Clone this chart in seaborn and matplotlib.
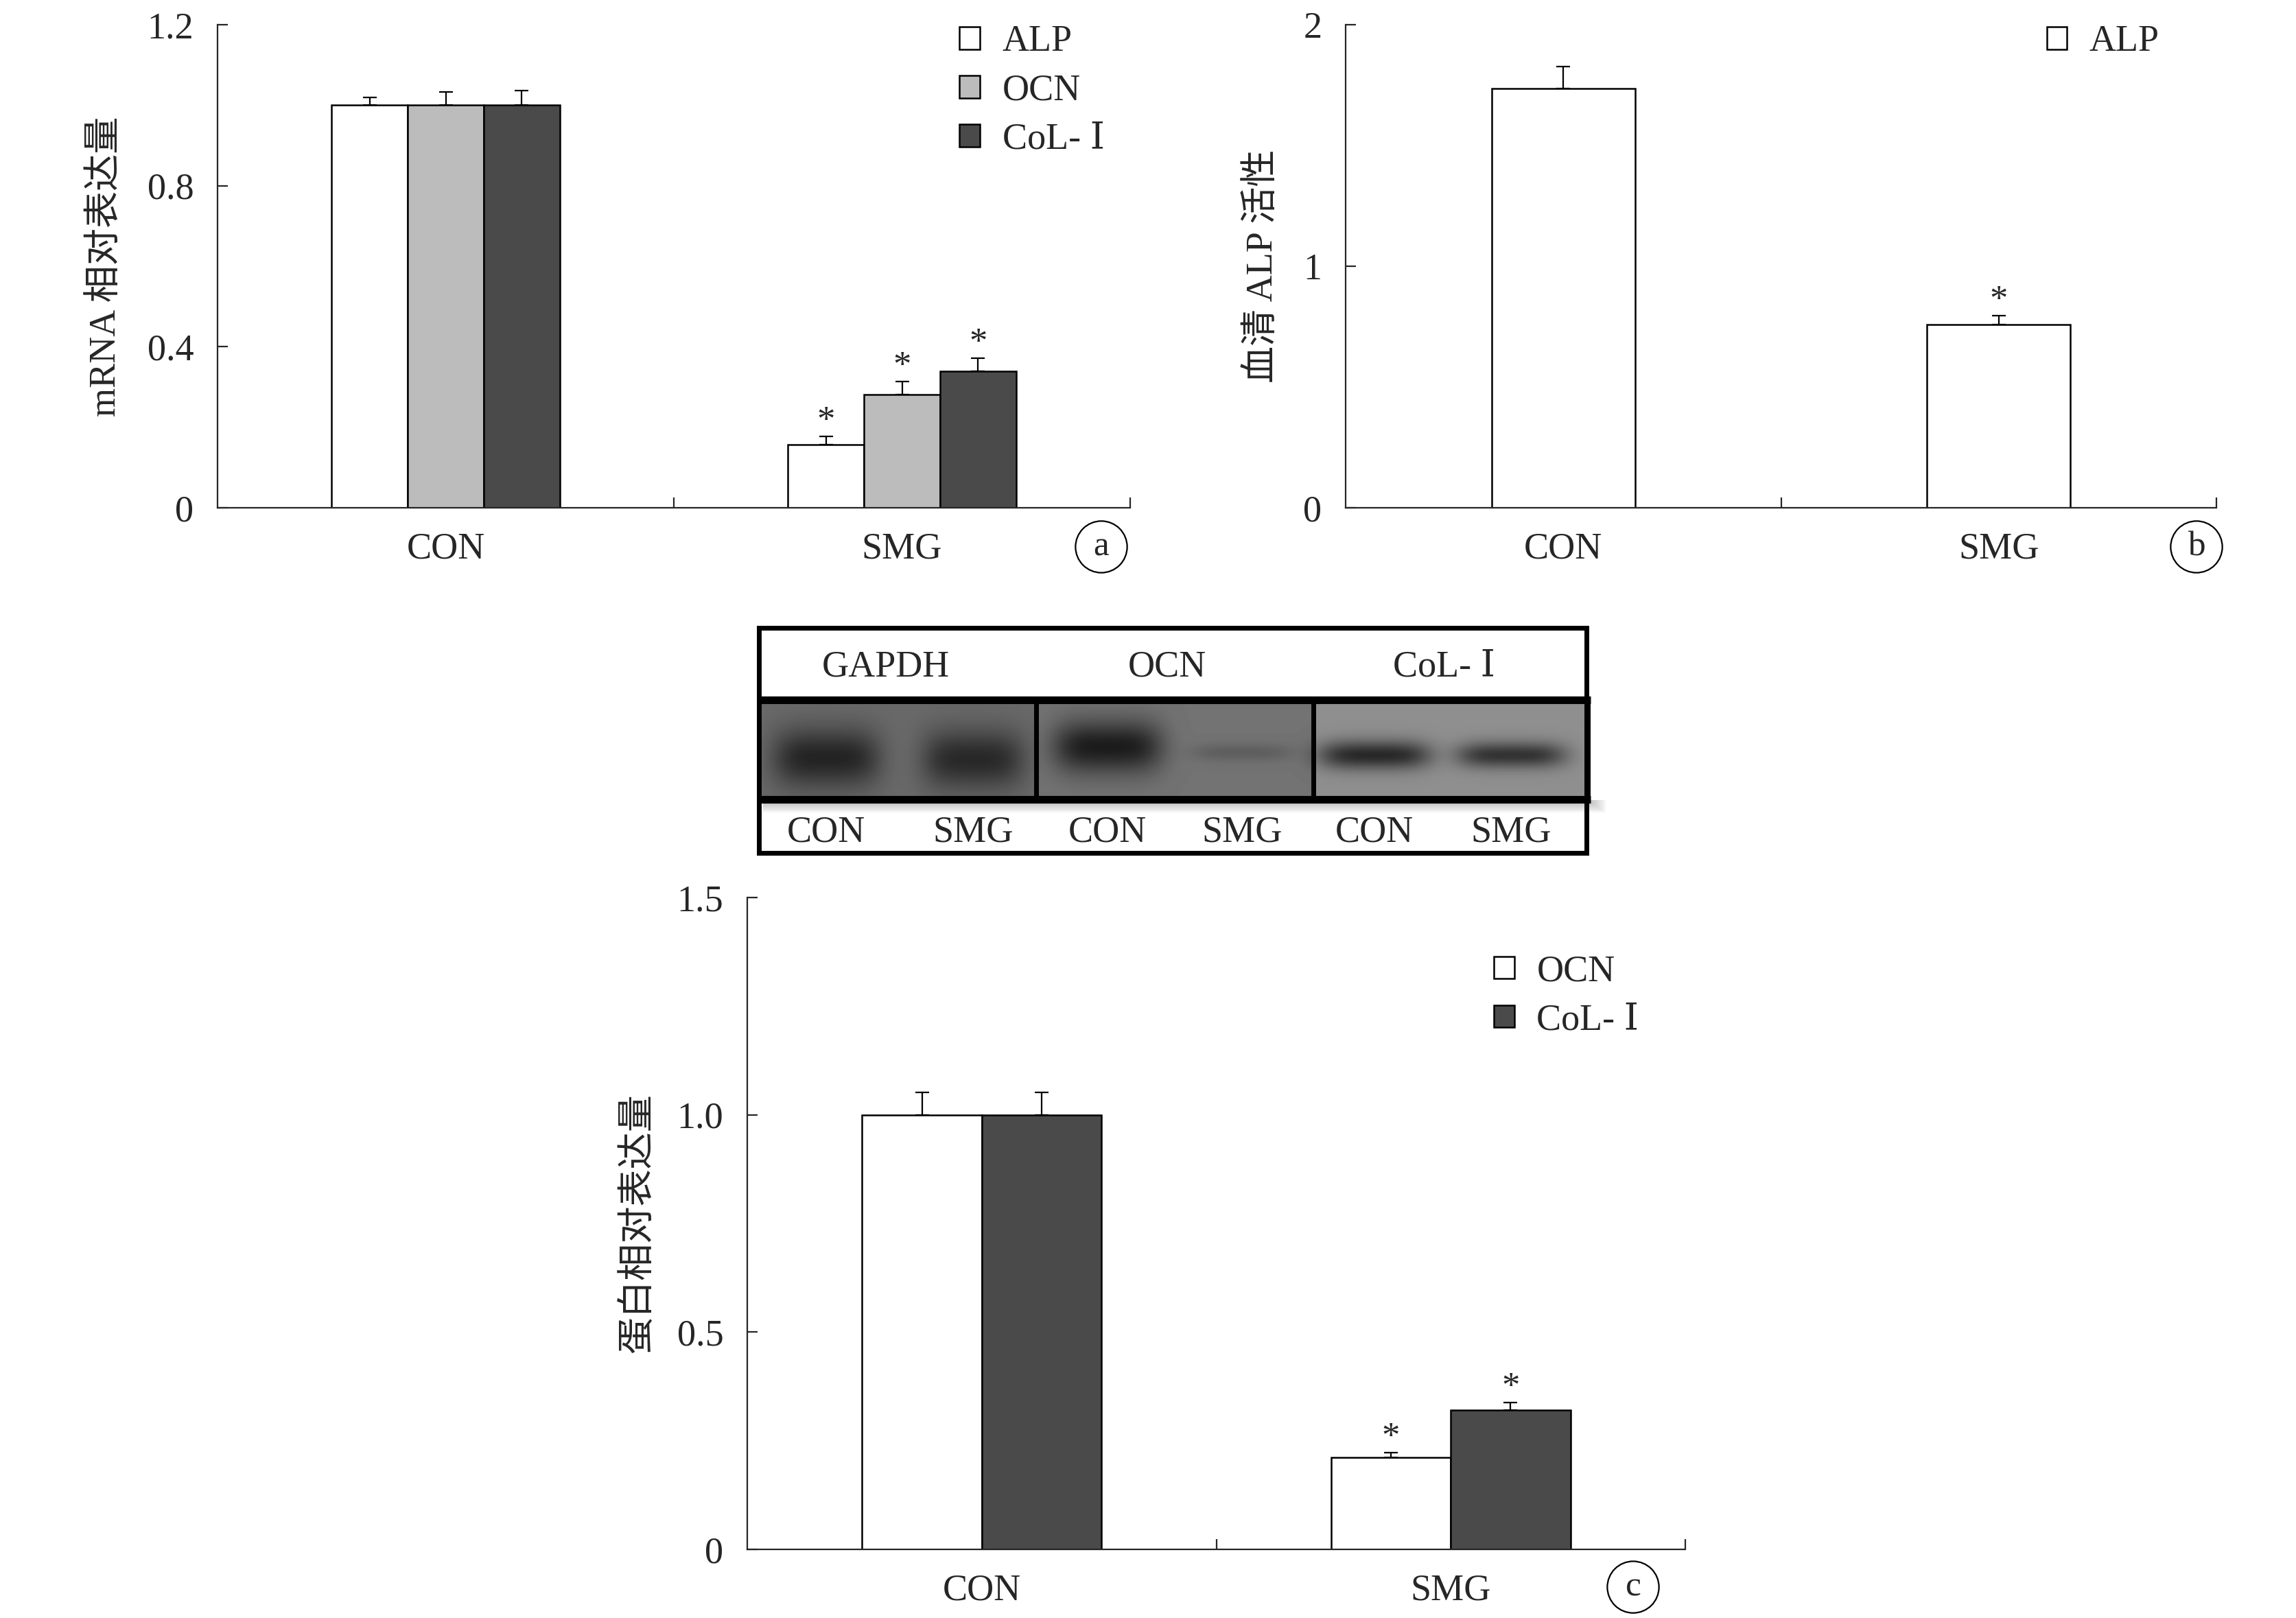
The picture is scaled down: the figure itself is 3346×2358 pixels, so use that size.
import numpy as np
import pandas as pd
import matplotlib
matplotlib.use('Agg')
import matplotlib.pyplot as plt
import seaborn as sns
from matplotlib.patches import Rectangle

sns.set_style('ticks')
plt.rcParams['font.family'] = ['Liberation Serif', 'DejaVu Serif', 'Noto Sans CJK SC']
plt.rcParams['axes.unicode_minus'] = False

# ---- data ----
groups = ['CON', 'SMG']

genes_a = ['ALP', 'OCN', 'CoL- Ⅰ']
mrna_con = [1.0, 1.0, 1.0]
mrna_smg = [0.157, 0.282, 0.339]
mrna_err_con = [0.020, 0.033, 0.037]
mrna_err_smg = [0.020, 0.031, 0.032]

genes_b = ['ALP']
alp_serum = [1.737, 0.758]
alp_err = [0.089, 0.037]

genes_c = ['OCN', 'CoL- Ⅰ']
prot_con = [1.0, 1.0]
prot_smg = [0.211, 0.320]
prot_err_con = [0.052, 0.052]
prot_err_smg = [0.011, 0.018]

blot_titles = ['GAPDH', 'OCN', 'CoL- Ⅰ']
blot_lanes = ['CON', 'SMG', 'CON', 'SMG', 'CON', 'SMG']
band_strength = [0.27, 0.25, 0.34, 0.08, 0.40, 0.36]

W, H = 3346, 2358
FS = 39
fig = plt.figure(figsize=(W / 100, H / 100), dpi=100)


def px_axes(x0, y0, x1, y1):
    return fig.add_axes([x0 / W, 1 - y1 / H, (x1 - x0) / W, (y1 - y0) / H])


def style_axes(ax, ylim, yticks, yticklabels, ylabel, labelx):
    sns.despine(ax=ax)
    ax.set_xlim(-0.5, 1.5)
    ax.set_ylim(*ylim)
    ax.set_yticks(yticks)
    ax.set_yticklabels(yticklabels, fontsize=FS)
    ax.set_xticks([0, 1])
    ax.set_xticklabels(groups, fontsize=FS)
    ax.set_xticks([0.5, 1.5], minor=True)
    ax.tick_params(axis='x', which='major', length=0, pad=25)
    ax.tick_params(axis='x', which='minor', direction='in', length=11, width=1.6)
    ax.tick_params(axis='y', direction='in', length=11, width=1.6, pad=25)
    for s in ['left', 'bottom']:
        ax.spines[s].set_linewidth(1.6)
    ax.set_xlabel('')
    ax.set_ylabel(ylabel, fontsize=FS)
    ax.yaxis.set_label_coords(labelx, 0.5)


def add_errors(ax, errs_by_hue):
    for cont, errs in zip(ax.containers, errs_by_hue):
        xs = [p.get_x() + p.get_width() / 2 for p in cont.patches]
        hs = [p.get_height() for p in cont.patches]
        ax.errorbar(xs, hs, yerr=[np.zeros(len(errs)), errs], fmt='none',
                    ecolor='black', elinewidth=1.6, capsize=7, capthick=1.6, zorder=1)
        # significance stars on SMG bars
        ax.annotate('*', (xs[1], hs[1] + errs[1]), xytext=(0, -2),
                    textcoords='offset points', ha='center', va='bottom', fontsize=38)


def add_legend(ax, anchor):
    handles, labels = ax.get_legend_handles_labels()
    ax.legend(handles, labels, loc='upper left', bbox_to_anchor=anchor, frameon=False,
              fontsize=FS, handlelength=0.55, handleheight=0.55, handletextpad=0.6,
              labelspacing=0.38, borderaxespad=0, borderpad=0)


# ---- panel a ----
df_a = pd.DataFrame({
    'group': [g for g in groups for _ in genes_a],
    'gene': genes_a * 2,
    'value': mrna_con + mrna_smg,
})
ax_a = px_axes(317, 36, 1647, 740)
sns.barplot(data=df_a, x='group', y='value', hue='gene', order=groups, hue_order=genes_a,
            palette=['#ffffff', '#bcbcbc', '#4b4a4b'], width=0.5, edgecolor='black',
            linewidth=1.8, errorbar=None, ax=ax_a, zorder=2)
add_errors(ax_a, [[c, s] for c, s in zip(mrna_err_con, mrna_err_smg)])
style_axes(ax_a, (0, 1.2), [0, 0.4, 0.8, 1.2], ['0', '0.4', '0.8', '1.2'],
           'mRNA 相对表达量', -0.103)
add_legend(ax_a, (0.813, 1.0))

# ---- panel b ----
df_b = pd.DataFrame({'group': groups, 'gene': genes_b * 2, 'value': alp_serum})
ax_b = px_axes(1961, 36, 3230, 740)
sns.barplot(data=df_b, x='group', y='value', hue='gene', order=groups, hue_order=genes_b,
            palette=['#ffffff'], width=0.33, edgecolor='black', linewidth=1.8,
            errorbar=None, ax=ax_b, zorder=2)
add_errors(ax_b, [alp_err])
style_axes(ax_b, (0, 2), [0, 1, 2], ['0', '1', '2'], '血清 ALP 活性', -0.075)
add_legend(ax_b, (0.805, 1.0))

# ---- panel c ----
df_c = pd.DataFrame({
    'group': [g for g in groups for _ in genes_c],
    'gene': genes_c * 2,
    'value': prot_con + prot_smg,
})
ax_c = px_axes(1089, 1308, 2456, 2258)
sns.barplot(data=df_c, x='group', y='value', hue='gene', order=groups, hue_order=genes_c,
            palette=['#ffffff', '#4b4a4b'], width=0.51, edgecolor='black',
            linewidth=1.8, errorbar=None, ax=ax_c, zorder=2)
add_errors(ax_c, [[c, s] for c, s in zip(prot_err_con, prot_err_smg)])
style_axes(ax_c, (0, 1.5), [0, 0.5, 1.0, 1.5], ['0', '0.5', '1.0', '1.5'],
           '蛋白相对表达量', -0.097)
add_legend(ax_c, (0.796, 0.913))

# ---- circled panel letters ----
for letter, (x, y) in zip(['a', 'b', 'c'], [(1605, 797), (3201, 797), (2380, 2313)]):
    fig.text(x / W, 1 - y / H, letter, fontsize=FS - 2, ha='center', va='center',
             bbox=dict(boxstyle='circle,pad=0.28', fc='white', ec='black', lw=1.6))

# ---- western blot ----
ax_w = px_axes(1090, 900, 2350, 1260)
ax_w.set_xlim(1090, 2350)
ax_w.set_ylim(1260, 900)
ax_w.axis('off')

gel_x = [(1108, 1508), (1512, 1912), (1916, 2312)]
gel_bg = [0.41, 0.45, 0.56]
gel_y0, gel_y1 = 1020, 1163
lane_x = [1204, 1418, 1614, 1810, 2003, 2202]
band_y = [1104, 1106, 1088, 1096, 1100, 1100]
band_w = [78, 74, 80, 74, 82, 80]
band_h = [42, 42, 38, 13, 21, 19]

yy, xx = np.mgrid[gel_y0:gel_y1, 1105:2318]
img = np.zeros(xx.shape)
for (x0, x1), bg in zip(gel_x, gel_bg):
    img[(xx >= x0) & (xx < x1)] = bg
for lx, ly, bw, bh, st in zip(lane_x, band_y, band_w, band_h, band_strength):
    img -= st * np.exp(-((xx - lx) / bw) ** 4 - ((yy - ly) / bh) ** 2)
img = np.clip(img, 0, 1)
# soft shadow below the gel strip
for i in range(8):
    ax_w.add_patch(Rectangle((1112, 1166), 1228 - i * 3, 18 - i * 2, color='#808080',
                             alpha=0.07, lw=0))
ax_w.imshow(img, cmap='gray', vmin=0, vmax=1, extent=(1105, 2318, gel_y1, gel_y0),
            aspect='auto', interpolation='bilinear')
# frame and separators
ax_w.add_patch(Rectangle((1106, 915), 1206, 328, fill=False, ec='black', lw=5))
ax_w.plot([1104, 2318], [1020, 1020], color='black', lw=8, solid_capstyle='butt')
ax_w.plot([1104, 2318], [1165, 1165], color='black', lw=8, solid_capstyle='butt')
for x in [1510, 1914]:
    ax_w.plot([x, x], [1020, 1165], color='black', lw=5)

for t, x in zip(blot_titles, [1291, 1701, 2104]):
    ax_w.text(x, 972, t, fontsize=FS, ha='center', va='center')
for t, x in zip(blot_lanes, lane_x):
    ax_w.text(x, 1213, t, fontsize=FS, ha='center', va='center')

fig.savefig('out.png', dpi=100, facecolor='white')
